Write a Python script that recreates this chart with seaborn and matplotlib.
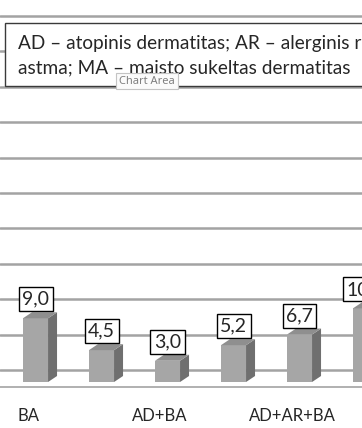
import numpy as np
import pandas as pd
import seaborn as sns
import matplotlib.pyplot as plt
from matplotlib.patches import Polygon, Rectangle
from matplotlib.transforms import ScaledTranslation

# data
values = [9.0, 4.5, 3.0, 5.2, 6.7, 10.4]
tick_labels = ['BA', '', 'AD+BA', '', 'AD+AR+BA', '']
grid_values = [0, 5, 10, 15, 20, 25, 30, 35, 40, 45, 50]
legend_lines = ['AD – atopinis dermatitas; AR – alerginis rinitas; BA – bronchinė',
                'astma; MA – maisto sukeltas dermatitas']

df = pd.DataFrame({'pos': range(len(values)), 'value': values})

front_col = '#a6a6a6'
side_col = '#6f6f6f'
top_col = '#8f8f8f'
grid_col = '#a3a3a3'

sns.set_style('white')
plt.rcParams['font.family'] = ['Lato', 'DejaVu Sans']

W, H = 362, 428
fig = plt.figure(figsize=(W / 100, H / 100), dpi=100)
ax = fig.add_axes([0, 41 / H, 1, 373 / H])

sns.barplot(data=df, x='pos', y='value', color=front_col, saturation=1,
            width=0.38, ax=ax, zorder=3)

ax.set_xlim(-28 / 66, (W - 28) / 66)
ax.set_ylim(-2.4, 50.28)

# 3d look: front face shifted onto the floor, depth goes up-right
shift = ScaledTranslation(0.075, -0.12, fig.dpi_scale_trans)
tr = ax.transData + shift
ddx = 9 / 66
ddy = 6 / 7.08

for p, v in zip(list(ax.patches), values):
    p.set_transform(tr)
    p.set_edgecolor('none')
    x0, w, h = p.get_x(), p.get_width(), p.get_height()
    side = Polygon([(x0 + w, 0), (x0 + w + ddx, ddy), (x0 + w + ddx, h + ddy), (x0 + w, h)],
                   closed=True, fc=side_col, ec='none', transform=tr, zorder=3)
    top = Polygon([(x0, h), (x0 + ddx, h + ddy), (x0 + w + ddx, h + ddy), (x0 + w, h)],
                  closed=True, fc=top_col, ec='none', transform=tr, zorder=3)
    ax.add_patch(side)
    ax.add_patch(top)
    lab = f'{v:.1f}'.replace('.', ',')
    ax.annotate(lab, (x0 + w / 2, h + ddy), xycoords=tr, xytext=(0, 3.2),
                textcoords='offset points', ha='center', va='bottom', fontsize=14,
                bbox=dict(boxstyle='square,pad=0.18', fc='white', ec='black', lw=1),
                zorder=4, annotation_clip=False)

ax.set_yticks(grid_values)
ax.set_yticklabels([])
ax.tick_params(axis='y', length=0)
ax.yaxis.grid(True, color=grid_col, lw=1.8)
ax.set_axisbelow(True)

ax.set_xticks(range(len(values)))
ax.set_xticklabels(tick_labels, fontsize=12)
ax.set_xticks(np.arange(0.5, len(values) - 1, 1), minor=True)
ax.tick_params(axis='x', which='major', length=0, pad=15)
ax.tick_params(axis='x', which='minor', length=6, width=1, color=grid_col)
ax.set_xlabel('')
ax.set_ylabel('')

for s in ['left', 'right', 'top']:
    ax.spines[s].set_visible(False)
ax.spines['bottom'].set_color(grid_col)
ax.spines['bottom'].set_linewidth(1.2)

# legend text box (runs off the right edge like the original)
box = Rectangle((5 / W, (H - 86) / H), 1.0, 63 / H, transform=fig.transFigure,
                fc='white', ec='#3a3a3a', lw=1, zorder=5)
fig.add_artist(box)

t1 = fig.text(18 / W, (H - 48.5) / H, legend_lines[0], va='baseline', fontsize=12, zorder=6)
t2 = fig.text(18 / W, (H - 73.3) / H, legend_lines[1], va='baseline', fontsize=12, zorder=6)
fig.canvas.draw()
wpx = t2.get_window_extent(fig.canvas.get_renderer()).width
fs = 12 * 329 / wpx
t1.set_fontsize(fs)
t2.set_fontsize(fs)

# "Chart Area" tooltip
fig.text(147 / W, (H - 81) / H, 'Chart Area', ha='center', va='center', fontsize=8,
         color='#808080', family=['Noto Sans', 'DejaVu Sans'], zorder=8,
         bbox=dict(boxstyle='square,pad=0.25', fc='#fbfbfb', ec='#c4c4c4', lw=0.8))

fig.savefig('out.png', dpi=100)
